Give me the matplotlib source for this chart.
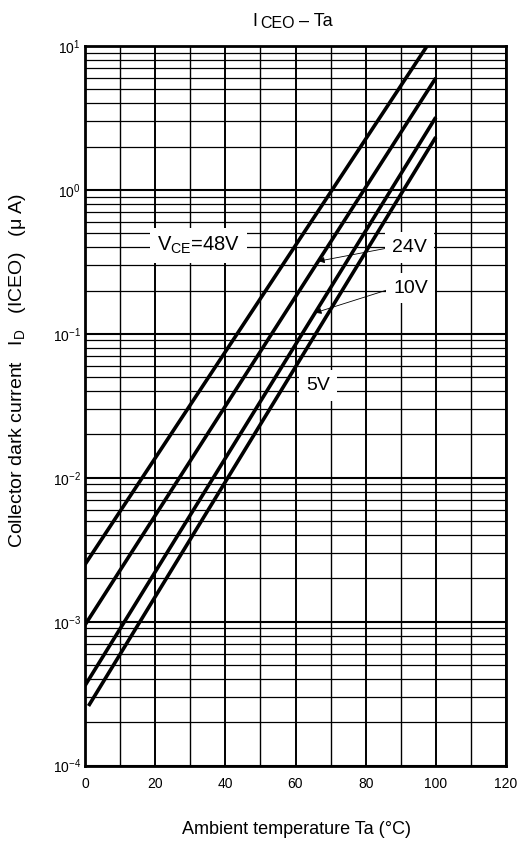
import numpy as np
import matplotlib
matplotlib.use("Agg")
import matplotlib.pyplot as plt
from matplotlib.ticker import MultipleLocator, LogLocator, NullFormatter

plt.rcParams['font.family'] = ['Liberation Sans', 'DejaVu Sans']
plt.rcParams['mathtext.default'] = 'regular'

W, H = 528, 843

# ICEO - Ta curves, straight lines on the log scale (end points)
ta_48v = [0, 97.5]
id_48v = [2.5e-3, 10.0]
ta_24v = [0, 100]
id_24v = [9.5e-4, 6.0]
ta_10v = [0, 100]
id_10v = [3.6e-4, 3.2]
ta_5v = [1, 100]
id_5v = [2.6e-4, 2.33]

x_ticks = [0, 20, 40, 60, 80, 100, 120]

fig = plt.figure(figsize=(W / 100, H / 100), dpi=100)
ax = fig.add_axes([85 / W, 1 - 765.7 / H, 421 / W, (765.7 - 46) / H])

ax.set_yscale('log')
ax.set_xlim(0, 120)
ax.set_ylim(1e-4, 1e1)
ax.set_xticks(x_ticks)
ax.xaxis.set_minor_locator(MultipleLocator(10))
ax.yaxis.set_major_locator(LogLocator(base=10, numticks=10))
ax.yaxis.set_minor_locator(LogLocator(base=10, subs=np.arange(2, 10), numticks=20))
ax.yaxis.set_minor_formatter(NullFormatter())
ax.tick_params(which='both', length=0, labelsize=10)
ax.tick_params(axis='x', pad=8)
ax.tick_params(axis='y', pad=3)

# grid
ax.grid(True, which='major', axis='x', color='black', lw=1.4)
ax.grid(True, which='minor', axis='x', color='black', lw=1.0)
ax.grid(True, which='major', axis='y', color='black', lw=1.5)
ax.grid(True, which='minor', axis='y', color='black', lw=0.9)
ax.set_axisbelow(True)
for s in ax.spines.values():
    s.set_linewidth(2)

curves = [(ta_48v, id_48v), (ta_24v, id_24v), (ta_10v, id_10v), (ta_5v, id_5v)]
for t, i in curves:
    ax.plot(t, i, color='black', lw=2.6, solid_capstyle='butt', zorder=3)


def on_line(t, i, x):
    return 10 ** np.interp(x, t, np.log10(i))


box = dict(boxstyle='square,pad=0.35', fc='white', ec='none')
ax.text(20.5, 0.41, 'V$_{CE}$=48V', fontsize=14.5, ha='left', va='center', bbox=box, zorder=4)
ax.text(63.0, 0.044, '5V', fontsize=14, ha='left', va='center', bbox=box, zorder=4)

arrow = dict(arrowstyle='-|>', color='black', lw=0.6, mutation_scale=9,
             shrinkA=0, shrinkB=0, patchA=None, relpos=(0, 0.5))
ax.annotate('24V', xy=(66.5, on_line(ta_24v, id_24v, 66.5)), xytext=(87.5, 0.40),
            fontsize=14, ha='left', va='center', bbox=box, arrowprops=arrow, zorder=4)
ax.annotate('10V', xy=(65.6, on_line(ta_10v, id_10v, 65.6)), xytext=(87.8, 0.208),
            fontsize=14, ha='left', va='center', bbox=box, arrowprops=arrow, zorder=4)

# title  I_CEO - Ta  (subscript almost full size in the original)
fig.text(252 / W, 1 - 26 / H, 'I', fontsize=13, ha='left', va='baseline')
fig.text(260 / W, 1 - 28.5 / H, 'CEO', fontsize=11.5, ha='left', va='baseline')
fig.text(299 / W, 1 - 26 / H, '– Ta', fontsize=13, ha='left', va='baseline')

fig.text(297 / W, 1 - 829 / H, 'Ambient temperature Ta (°C)', fontsize=13,
         ha='center', va='center')
fig.text(18 / W, 1 - 548 / H,
         'Collector dark current   I$_D$   (ICEO)   (μ A)', fontsize=14,
         rotation=90, ha='center', va='bottom')

fig.savefig('out.png', dpi=100)
